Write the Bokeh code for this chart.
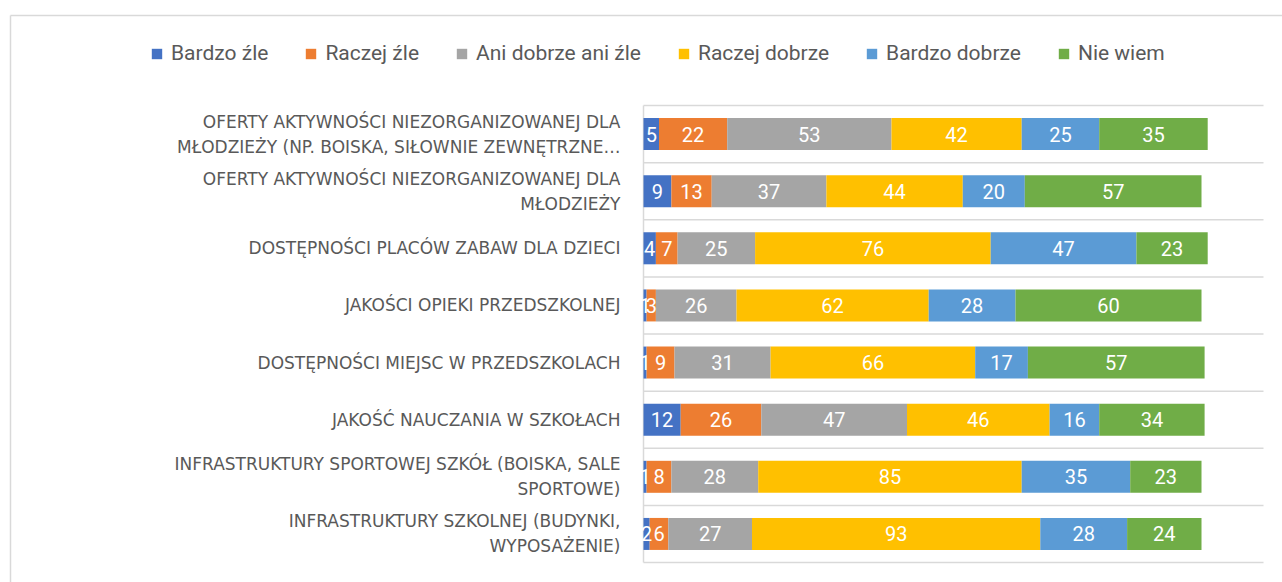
from bokeh.plotting import figure
from bokeh.models import ColumnDataSource, Range1d, Legend, LegendItem
from bokeh.core.properties import value
from bokeh.embed import file_html
from bokeh.resources import INLINE

# ---- data (top row first) ----
categories = [
    "OFERTY AKTYWNOŚCI NIEZORGANIZOWANEJ DLA\nMŁODZIEŻY (NP. BOISKA, SIŁOWNIE ZEWNĘTRZNE…",
    "OFERTY AKTYWNOŚCI NIEZORGANIZOWANEJ DLA\nMŁODZIEŻY",
    "DOSTĘPNOŚCI PLACÓW ZABAW DLA DZIECI",
    "JAKOŚCI OPIEKI PRZEDSZKOLNEJ",
    "DOSTĘPNOŚCI MIEJSC W PRZEDSZKOLACH",
    "JAKOŚĆ NAUCZANIA W SZKOŁACH",
    "INFRASTRUKTURY SPORTOWEJ SZKÓŁ (BOISKA, SALE\nSPORTOWE)",
    "INFRASTRUKTURY SZKOLNEJ (BUDYNKI,\nWYPOSAŻENIE)",
]
series_names = ["Bardzo źle", "Raczej źle", "Ani dobrze ani źle",
                "Raczej dobrze", "Bardzo dobrze", "Nie wiem"]
bardzo_zle = [5, 9, 4, 1, 1, 12, 1, 2]
raczej_zle = [22, 13, 7, 3, 9, 26, 8, 6]
ani_dobrze_ani_zle = [53, 37, 25, 26, 31, 47, 28, 27]
raczej_dobrze = [42, 44, 76, 62, 66, 46, 85, 93]
bardzo_dobrze = [25, 20, 47, 28, 17, 16, 35, 28]
nie_wiem = [35, 57, 23, 60, 57, 34, 23, 24]
colors = ["#4472C4", "#ED7D31", "#A5A5A5", "#FFC000", "#5B9BD5", "#70AD47"]
x_max = 200  # value axis maximum

# ---- layout (pixels) ----
W, H = 1282, 582
plot_left, plot_right, plot_top, plot_bottom = 643, 1263, 105, 562

series = [bardzo_zle, raczej_zle, ani_dobrze_ani_zle, raczej_dobrze, bardzo_dobrze, nie_wiem]
keys = ["s%d" % i for i in range(len(series))]
n = len(categories)
ys = [n - 0.5 - i for i in range(n)]

sx = (plot_right - plot_left) / x_max
sy = (plot_bottom - plot_top) / n
def px_x(px):
    return (px - plot_left) / sx
def px_y(py):
    return (plot_bottom - py) / sy

data = {"y": ys}
for k, s in zip(keys, series):
    data[k] = s
source = ColumnDataSource(data)

lx, ly, lt = [], [], []
for r in range(n):
    left = 0
    for s in series:
        v = s[r]
        lx.append(left + v / 2)
        ly.append(ys[r])
        lt.append(str(v))
        left += v
lsource = ColumnDataSource(dict(x=lx, y=ly, t=lt))

p = figure(width=W, height=H, output_backend="svg", toolbar_location=None,
           x_range=Range1d(px_x(0), px_x(W)), y_range=Range1d(px_y(H), px_y(0)),
           x_axis_location=None, y_axis_location=None,
           min_border_left=0, min_border_right=0, min_border_top=0, min_border_bottom=0)
p.outline_line_color = None
p.background_fill_color = "white"
p.border_fill_color = "white"
p.grid.visible = False

# outer chart border (light grey, runs off the page to the right and bottom)
p.segment(x0=[px_x(10), px_x(10)], y0=[px_y(15), px_y(15)],
          x1=[px_x(W + 20), px_x(10)], y1=[px_y(15), px_y(H + 20)],
          line_color="#d9d9d9", line_width=1.5)

# category separators and the category axis line
bounds = list(range(n + 1))
p.segment(x0=[0] * len(bounds), x1=[x_max] * len(bounds), y0=bounds, y1=bounds,
          line_color="#d9d9d9", line_width=1.5)
p.segment(x0=[0], x1=[0], y0=[0], y1=[n], line_color="#d9d9d9", line_width=1.5)

renderers = p.hbar_stack(keys, y="y", height=0.56, color=colors, source=source,
                         line_width=0)

p.text(x="x", y="y", text="t", source=lsource, text_align="center",
       text_baseline="middle", text_color="white", text_font=value("Roboto"),
       text_font_size="20px")

# category labels
csource = ColumnDataSource(dict(y=ys, t=categories))
p.text(x=px_x(plot_left - 23), y="y", text="t", source=csource, text_align="right",
       text_baseline="middle", text_color="#595959", text_font=value("DejaVu Sans"),
       text_font_size="17px", text_line_height=1.25)

# legend
items = [LegendItem(label=nm, renderers=[r]) for nm, r in zip(series_names, renderers)]
legend = Legend(items=items, orientation="horizontal", location=(150, H - 65),
                spacing=36, glyph_width=13, glyph_height=13, label_standoff=8,
                padding=0, margin=0, border_line_color=None, background_fill_alpha=0,
                label_text_font="Roboto", label_text_font_size="21px",
                label_text_color="#595959", label_height=22)
p.add_layout(legend, "center")

open("out.html", "w").write(file_html(p, INLINE))
